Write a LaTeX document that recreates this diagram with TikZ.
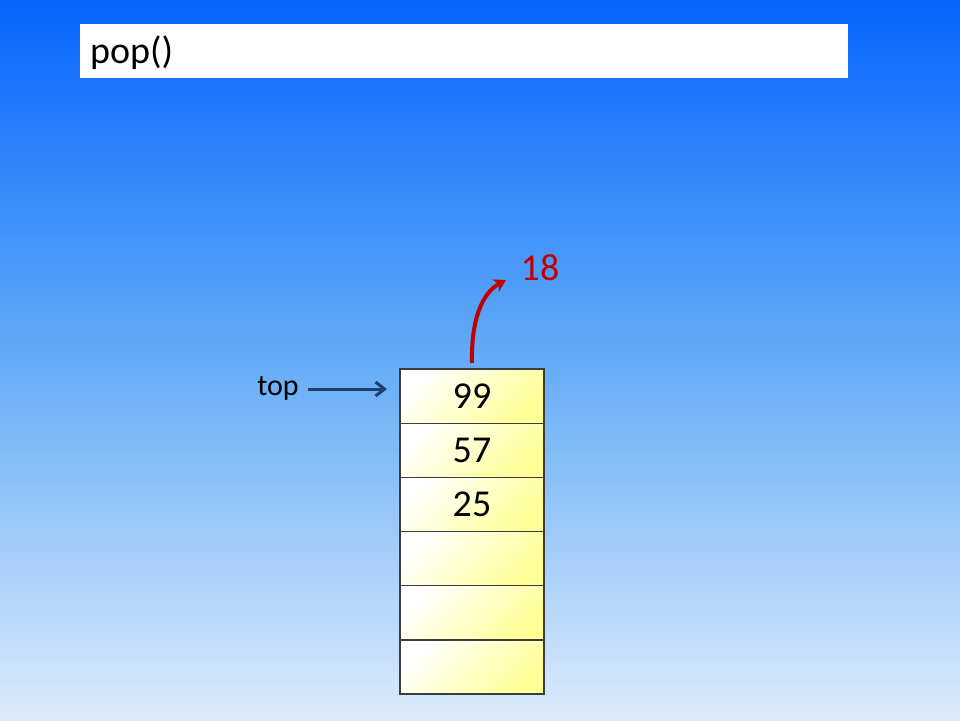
\documentclass[tikz,border=0pt]{standalone}
\usepackage{fontspec}
\setmainfont{Carlito}
\usetikzlibrary{arrows.meta}
\definecolor{bgtop}{RGB}{5,102,255}
\definecolor{bgmid}{RGB}{100,172,246}
\definecolor{bgbot}{RGB}{220,235,251}
\definecolor{cellylw}{RGB}{255,255,150}
\definecolor{cellline}{RGB}{60,60,60}
\definecolor{toparrow}{RGB}{31,63,110}
\definecolor{popred}{RGB}{192,0,0}
\tikzset{
  cell/.style={draw=cellline, line width=1.2pt, minimum width=144pt, minimum height=54.17pt,
    inner sep=0pt, shading=axis, top color=white, bottom color=cellylw, shading angle=45,
    font=\fontsize{38}{40}\selectfont},
  lbl/.style={inner sep=0pt, font=\fontsize{30}{32}\selectfont}
}
\begin{document}
\begin{tikzpicture}[x=1pt,y=-1pt]
\useasboundingbox (0,0) rectangle (960,720);
\shade[top color=bgtop, bottom color=bgbot, middle color=bgmid] (0,0) rectangle (960,720);
% title box
\node[fill=white, minimum width=768pt, minimum height=54pt, inner sep=0pt, anchor=north west] (title) at (80,24) {};
\node[anchor=west, inner sep=0pt, font=\fontsize{38}{40}\selectfont] (poptxt) at (90,53) {pop()};
% stack cells
\node[cell] (c1) at (472,396.1) {99};
\node[cell] (c2) at (472,450.3) {57};
\node[cell] (c3) at (472,504.5) {25};
\node[cell] (c4) at (472,558.6) {};
\node[cell] (c5) at (472,612.8) {};
\node[cell] (c6) at (472,667.0) {};
% top pointer
\node[lbl] (toplbl) at (278,388) {top};
\coordinate (topstart) at (308,389);
\coordinate (topend) at (387,389);
\draw[toparrow, line width=3pt, -{Straight Barb[length=9pt,width=14pt,line width=3pt]}] (topstart) -- (topend);
% popped value
\node[lbl, text=popred, font=\fontsize{38}{40}\selectfont] (val) at (540,268) {18};
\coordinate (popstart) at (472,363);
\coordinate (popend) at (506,280);
\draw[popred, line width=4pt, -{Stealth[length=12pt,width=14pt]}] (popstart) .. controls (471,320) and (482,293) .. (popend);
\end{tikzpicture}
\end{document}
